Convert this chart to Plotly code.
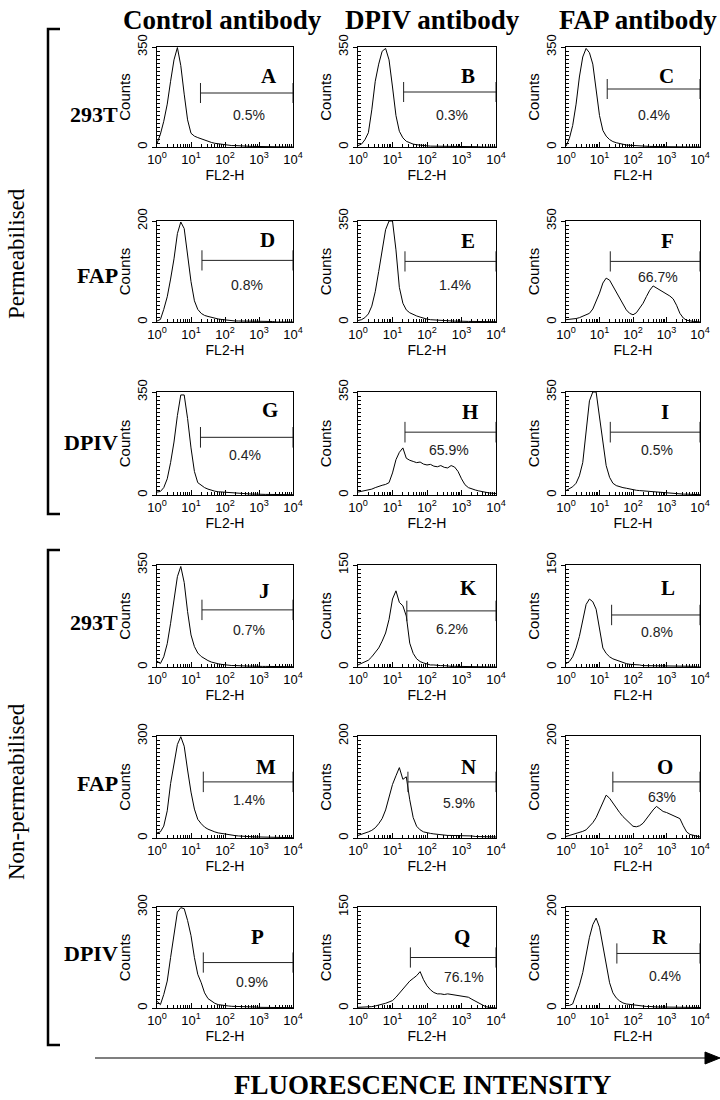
import plotly.graph_objects as go

# ---------------- DATA ----------------
# FL2-H channel grid (0.1-decade steps from 10^0 to 10^4)
FL2_H = [1.0, 1.26, 1.58, 2.0, 2.51, 3.16, 3.98, 5.01, 6.31, 7.94,
         10.0, 12.6, 15.8, 20.0, 25.1, 31.6, 39.8, 50.1, 63.1, 79.4,
         100, 126, 158, 200, 251, 316, 398, 501, 631, 794,
         1000, 1259, 1585, 1995, 2512, 3162, 3981, 5012, 6310, 7943, 10000]

COUNTS_A = [12, 45, 90, 150, 230, 305, 348, 285, 185, 95, 48, 38, 33, 28, 23, 19, 16, 13, 11, 9,
            8, 6, 5, 5, 4, 3, 3, 3, 2, 2, 2, 2, 1, 1, 1, 1, 1, 1, 0, 0, 0]
COUNTS_B = [5, 10, 25, 50, 130, 230, 290, 335, 345, 305, 210, 110, 55, 32, 20, 14, 10, 8, 6, 5,
            4, 3, 3, 2, 2, 2, 1, 1, 1, 1, 1, 1, 1, 1, 1, 1, 0, 0, 0, 0, 0]
COUNTS_C = [3, 30, 75, 150, 245, 315, 345, 330, 290, 200, 110, 58, 38, 26, 19, 15, 12, 9, 7, 6,
            5, 4, 3, 3, 2, 2, 2, 1, 1, 1, 1, 1, 1, 1, 1, 1, 1, 1, 1, 1, 0]
COUNTS_D = [2, 5, 25, 50, 85, 125, 175, 198, 185, 135, 80, 42, 25, 17, 13, 11, 9, 7, 6, 5,
            4, 3, 3, 2, 2, 2, 1, 1, 1, 1, 1, 1, 1, 1, 1, 0, 0, 0, 0, 0, 0]
COUNTS_E = [5, 8, 15, 28, 55, 105, 175, 250, 320, 350, 350, 250, 120, 65, 42, 32, 26, 21, 17, 13,
            10, 8, 7, 6, 5, 4, 4, 3, 3, 3, 2, 2, 2, 2, 2, 1, 1, 1, 1, 1, 1]
COUNTS_F = [8, 9, 10, 12, 15, 20, 25, 30, 45, 70, 100, 135, 152, 145, 125, 105, 80, 60, 42, 30,
            25, 32, 48, 65, 88, 110, 125, 118, 110, 104, 98, 90, 80, 58, 30, 14, 6, 3, 2, 1, 0]
COUNTS_G = [10, 12, 25, 55, 110, 180, 270, 340, 340, 260, 160, 80, 42, 32, 25, 20, 16, 13, 11, 10,
            9, 8, 7, 6, 5, 4, 4, 3, 3, 3, 2, 2, 2, 2, 2, 2, 1, 1, 1, 1, 1]
COUNTS_H = [10, 12, 14, 16, 20, 25, 30, 33, 36, 42, 75, 120, 145, 160, 125, 118, 114, 110, 112, 105,
            102, 104, 98, 96, 100, 94, 92, 100, 95, 80, 55, 35, 25, 20, 17, 14, 11, 9, 7, 6, 5]
COUNTS_I = [15, 22, 28, 40, 65, 110, 210, 320, 350, 350, 265, 180, 100, 60, 40, 32, 28, 25, 23, 20,
            18, 16, 15, 14, 12, 11, 10, 9, 8, 7, 6, 5, 5, 4, 4, 3, 3, 2, 2, 2, 1]
COUNTS_J = [20, 12, 35, 80, 150, 230, 310, 345, 290, 190, 110, 70, 48, 36, 28, 22, 17, 13, 11, 9,
            7, 6, 5, 5, 4, 4, 3, 3, 3, 2, 2, 2, 2, 2, 2, 1, 1, 1, 1, 1, 1]
COUNTS_K = [3, 5, 7, 10, 15, 22, 28, 38, 50, 70, 100, 112, 95, 90, 75, 35, 20, 12, 8, 6,
            4, 3, 3, 2, 2, 2, 1, 1, 1, 1, 1, 1, 1, 1, 1, 1, 1, 1, 0, 0, 0]
COUNTS_L = [5, 8, 15, 28, 45, 68, 92, 100, 96, 85, 55, 28, 20, 15, 12, 10, 8, 6, 5, 4,
            4, 3, 3, 2, 2, 2, 2, 1, 1, 1, 1, 1, 1, 1, 1, 1, 1, 1, 1, 0, 0]
COUNTS_M = [15, 18, 35, 80, 160, 220, 275, 298, 270, 200, 135, 85, 55, 42, 32, 26, 21, 18, 15, 13,
            11, 9, 8, 7, 6, 5, 5, 4, 4, 3, 3, 3, 2, 2, 2, 2, 2, 1, 1, 1, 1]
COUNTS_N = [5, 7, 10, 12, 15, 20, 28, 38, 55, 80, 105, 122, 138, 115, 120, 75, 40, 23, 16, 12,
            10, 9, 8, 7, 6, 6, 5, 5, 5, 5, 5, 4, 4, 4, 3, 3, 3, 3, 2, 2, 2]
COUNTS_O = [3, 5, 6, 8, 10, 13, 16, 22, 30, 40, 55, 68, 84, 78, 68, 60, 50, 42, 35, 28,
            23, 22, 24, 29, 38, 48, 55, 62, 56, 52, 50, 47, 45, 42, 38, 24, 12, 7, 5, 3, 2]
COUNTS_P = [20, 10, 40, 80, 150, 225, 285, 298, 295, 260, 215, 150, 100, 75, 45, 28, 20, 14, 10, 8,
            7, 6, 5, 5, 4, 4, 3, 3, 3, 3, 2, 2, 2, 2, 2, 2, 1, 1, 1, 1, 1]
COUNTS_Q = [1, 1, 1, 2, 2, 3, 4, 5, 7, 9, 11, 16, 22, 29, 35, 40, 44, 48, 54, 42,
            33, 27, 23, 21, 21, 20, 21, 20, 19, 19, 18, 17, 16, 13, 10, 7, 4, 2, 1, 1, 0]
COUNTS_R = [5, 5, 8, 25, 45, 70, 105, 140, 165, 178, 160, 125, 85, 50, 30, 20, 14, 10, 8, 7,
            6, 5, 4, 4, 3, 3, 2, 2, 2, 2, 2, 2, 1, 1, 1, 1, 1, 1, 1, 1, 1]

PANEL_LETTERS = ["A", "B", "C", "D", "E", "F", "G", "H", "I",
                 "J", "K", "L", "M", "N", "O", "P", "Q", "R"]
PANEL_COUNTS = [COUNTS_A, COUNTS_B, COUNTS_C, COUNTS_D, COUNTS_E, COUNTS_F,
                COUNTS_G, COUNTS_H, COUNTS_I, COUNTS_J, COUNTS_K, COUNTS_L,
                COUNTS_M, COUNTS_N, COUNTS_O, COUNTS_P, COUNTS_Q, COUNTS_R]
Y_MAX = [350, 350, 350, 200, 350, 350, 350, 350, 350,
         350, 150, 150, 300, 200, 200, 300, 150, 200]
PERCENT = ["0.5%", "0.3%", "0.4%", "0.8%", "1.4%", "66.7%", "0.4%", "65.9%", "0.5%",
           "0.7%", "6.2%", "0.8%", "1.4%", "5.9%", "63%", "0.9%", "76.1%", "0.4%"]
GATE_START = [19, 21, 17, 21, 23, 21, 19, 23, 21,
              21, 26, 23, 23, 28, 25, 23, 33, 33]   # FL2-H
GATE_END = 10000

COLUMN_TITLES = ["Control antibody", "DPIV antibody", "FAP antibody"]
ROW_LABELS = ["293T", "FAP", "DPIV", "293T", "FAP", "DPIV"]
GROUP_LABELS = ["Permeabilised", "Non-permeabilised"]
X_TICK_VALS = [1, 10, 100, 1000, 10000]
X_TICK_TEXT = ["10<sup>0</sup>", "10<sup>1</sup>", "10<sup>2</sup>", "10<sup>3</sup>", "10<sup>4</sup>"]
X_TITLE = "FL2-H"
Y_TITLE = "Counts"
BOTTOM_TITLE = "FLUORESCENCE INTENSITY"

# ---------------- LAYOUT / STYLE ----------------
W, H = 720, 1100
COL_L = [157, 358, 566]
COL_R = [293, 496, 700]
ROW_T = [47, 221, 392, 565, 736, 907]
ROW_B = [147, 322, 495, 667, 838, 1008]
GATE_Y_FRAC = [0.54, 0.55, 0.58, 0.61, 0.60, 0.60, 0.56, 0.61, 0.61,
               0.56, 0.55, 0.51, 0.55, 0.55, 0.55, 0.45, 0.50, 0.54]
LETTER_POS = [(0.82, 0.71), (0.80, 0.71), (0.75, 0.71), (0.81, 0.81), (0.80, 0.80), (0.76, 0.80),
              (0.83, 0.83), (0.81, 0.81), (0.74, 0.81), (0.79, 0.75), (0.80, 0.77), (0.76, 0.77),
              (0.80, 0.70), (0.80, 0.70), (0.74, 0.70), (0.74, 0.70), (0.75, 0.70), (0.70, 0.70)]
PCT_POS = [(0.68, 0.32), (0.68, 0.32), (0.66, 0.32), (0.66, 0.37), (0.70, 0.37), (0.69, 0.45),
           (0.65, 0.39), (0.66, 0.44), (0.68, 0.44), (0.68, 0.36), (0.68, 0.37), (0.68, 0.34),
           (0.68, 0.37), (0.73, 0.34), (0.72, 0.40), (0.70, 0.26), (0.77, 0.31), (0.74, 0.32)]
SERIF = "Liberation Serif, Times New Roman, serif"
SANS = "Liberation Sans, Arial, sans-serif"
X_MINOR_TICKS = [m * 10 ** d for d in range(4) for m in range(2, 10)]
Y_MINOR_STEPS = 25


def px(x):
    return x / W


def py(y):
    return 1 - y / H


fig = go.Figure()
layout = dict(template="none", width=W, height=H, margin=dict(l=0, r=0, t=0, b=0, autoexpand=False),
              paper_bgcolor="white", plot_bgcolor="white", showlegend=False)
annotations = []
shapes = []

for i, counts in enumerate(PANEL_COUNTS):
    r, c = divmod(i, 3)
    n = i + 1
    xs = "" if n == 1 else str(n)
    ymax = Y_MAX[i]
    fig.add_trace(go.Scatter(x=FL2_H, y=counts, mode="lines",
                             line=dict(color="black", width=1),
                             xaxis="x" + xs, yaxis="y" + xs, hoverinfo="skip"))
    gy = GATE_Y_FRAC[i] * ymax
    hh = 0.1 * ymax
    g0 = GATE_START[i]
    fig.add_trace(go.Scatter(x=[g0, g0, None, g0, GATE_END, None, GATE_END, GATE_END],
                             y=[gy - hh, gy + hh, None, gy, gy, None, gy - hh, gy + hh],
                             mode="lines", line=dict(color="#222", width=1),
                             cliponaxis=False,
                             xaxis="x" + xs, yaxis="y" + xs, hoverinfo="skip"))
    layout["xaxis" + xs] = dict(
        type="log", range=[0, 4], domain=[px(COL_L[c]), px(COL_R[c])], automargin=False,
        anchor="y" + xs, tickmode="array", tickvals=X_TICK_VALS, ticktext=X_TICK_TEXT,
        ticks="inside", ticklen=5, tickcolor="black",
        minor=dict(ticks="inside", ticklen=3, tickcolor="black", tickmode="array",
                   tickvals=X_MINOR_TICKS, showgrid=False),
        showline=True, linecolor="black", linewidth=1, mirror=True,
        showgrid=False, zeroline=False,
        tickfont=dict(family=SANS, size=13, color="black"),
        title=dict(text=X_TITLE, font=dict(family=SANS, size=14, color="black"), standoff=1))
    layout["yaxis" + xs] = dict(
        range=[0, ymax], domain=[py(ROW_B[r]), py(ROW_T[r])], automargin=False,
        anchor="x" + xs, tickmode="array", tickvals=[0, ymax], ticktext=[str(0), str(ymax)],
        tickangle=-90, ticks="outside", ticklen=4, tickcolor="black",
        minor=dict(ticks="inside", ticklen=3, tickcolor="black", tickmode="array",
                   tickvals=[k * ymax / Y_MINOR_STEPS for k in range(1, Y_MINOR_STEPS)],
                   showgrid=False),
        showline=True, linecolor="black", linewidth=1, mirror=True,
        showgrid=False, zeroline=False,
        tickfont=dict(family=SANS, size=13, color="black"),
        title=dict(text=Y_TITLE, font=dict(family=SANS, size=15, color="black"), standoff=0))
    lx, ly = LETTER_POS[i]
    annotations.append(dict(text="<b>%s</b>" % PANEL_LETTERS[i], x=lx, y=ly,
                            xref="x%s domain" % xs, yref="y%s domain" % xs,
                            xanchor="center", yanchor="middle",
                            showarrow=False, font=dict(family=SERIF, size=21, color="black")))
    tx, ty = PCT_POS[i]
    annotations.append(dict(text=PERCENT[i], x=tx, y=ty,
                            xref="x%s domain" % xs, yref="y%s domain" % xs,
                            xanchor="center", yanchor="middle",
                            showarrow=False, font=dict(family=SANS, size=14, color="#222")))

# column titles
for cx, t in zip([222, 432, 638], COLUMN_TITLES):
    annotations.append(dict(text="<b>%s</b>" % t, x=px(cx), y=py(20), xref="paper", yref="paper",
                            xanchor="center", yanchor="middle",
                            showarrow=False, font=dict(family=SERIF, size=27, color="black")))
# row labels
for ry, t in zip([115, 275, 442, 622, 783, 953], ROW_LABELS):
    annotations.append(dict(text="<b>%s</b>" % t, x=px(120), y=py(ry), xref="paper", yref="paper",
                            xanchor="right", yanchor="middle", showarrow=False,
                            font=dict(family=SERIF, size=22, color="black")))
# group labels
for gy, t in zip([254, 792], GROUP_LABELS):
    annotations.append(dict(text=t, x=px(16), y=py(gy), xref="paper", yref="paper",
                            xanchor="center", yanchor="middle",
                            textangle=-90, showarrow=False,
                            font=dict(family=SERIF, size=23, color="black")))
# bottom title
annotations.append(dict(text="<b>%s</b>" % BOTTOM_TITLE, x=px(422), y=py(1085), xref="paper",
                        yref="paper", xanchor="center", yanchor="middle", showarrow=False,
                        font=dict(family=SERIF, size=27, color="black")))

# brackets
for top, bot in [(29, 514), (550, 1045)]:
    shapes.append(dict(type="path", xref="paper", yref="paper",
                       path="M %f %f L %f %f L %f %f L %f %f" % (px(60), py(top), px(48), py(top),
                                                                px(48), py(bot), px(60), py(bot)),
                       line=dict(color="black", width=2.5)))
# bottom arrow
shapes.append(dict(type="line", xref="paper", yref="paper", x0=px(95), x1=px(708),
                   y0=py(1058), y1=py(1058), line=dict(color="black", width=1.2)))
shapes.append(dict(type="path", xref="paper", yref="paper",
                   path="M %f %f L %f %f L %f %f Z" % (px(705), py(1052), px(720), py(1058),
                                                      px(705), py(1064)),
                   fillcolor="black", line=dict(color="black", width=1)))

layout["annotations"] = annotations
layout["shapes"] = shapes
fig.update_layout(**layout)
fig.write_html("out.html", config={"displayModeBar": False},
               post_script="document.body.style.margin='0';document.body.style.overflow='hidden';")
